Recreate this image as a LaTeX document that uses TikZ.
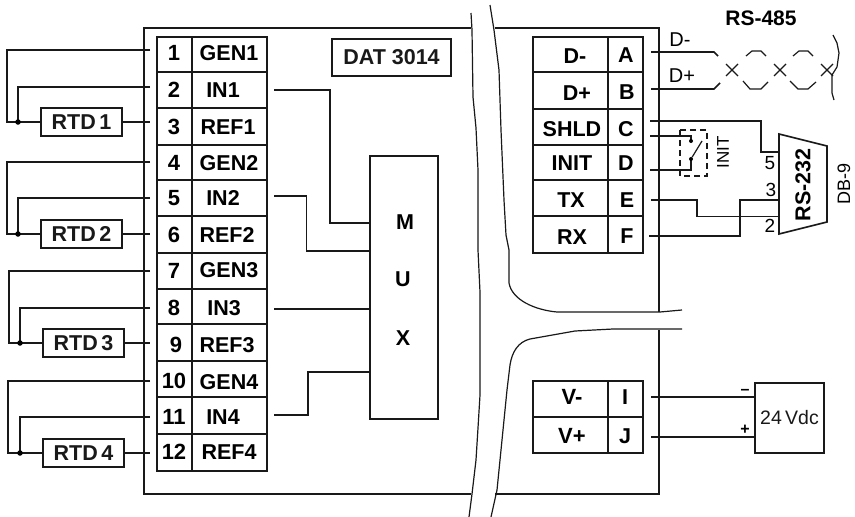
\documentclass[tikz,border=0pt]{standalone}
\usepackage{fontspec}
\setmainfont{Liberation Sans}
\newcommand{\fs}[1]{\fontsize{#1}{#1}\selectfont}
\tikzset{
  x=1pt,y=-1pt,
  ln/.style={line width=1.6pt,black!90},
  thin ln/.style={line width=1.2pt,black!90},
  lbl/.style={inner sep=0pt,font=\fs{22}\bfseries},
  mid/.style={inner sep=0pt,font=\fs{21.5}\bfseries},
  rg/.style={inner sep=0pt,font=\fs{19}},
  dotj/.style={circle,fill=black,inner sep=0pt,minimum size=5.5pt},
}
\begin{document}
\begin{tikzpicture}
\useasboundingbox (0,0) rectangle (855,517);
\fill[white] (0,0) rectangle (855,517);
% outer box
\draw[ln] (471,28) -- (144,28) -- (144,494) -- (471,494);
\draw[ln] (495,28) -- (659,28) -- (659,312);
\draw[ln] (659,330) -- (659,494) -- (495,494);
% break lines
\draw[thin ln] (471,13) -- (472,30) -- (473,97) -- (476,128) -- (478,170) -- (478,250) -- (480,292) -- (480,395) -- (478,428) -- (476,460) -- (472,494) -- (469,517);
\draw[thin ln] (490,5) -- (494,30) -- (499,70) -- (501,130) -- (504,200) -- (506,235) -- (509,250) -- (509,283) .. controls (512,300) and (535,310) .. (557,312) -- (660,312) -- (682,310);
\draw[thin ln] (682,329) -- (613,329) -- (575,331) -- (530,339) .. controls (518,342) and (512,352) .. (510,365) -- (507,390) -- (502,440) -- (497,490) -- (491,517);
% left terminal table
\draw[ln] (157,37) rectangle (267,471);
\draw[ln] (192,37) -- (192,471);
\foreach \yy in {72,108,145,180,216,253,289,324,361,397,434}
  \draw[ln] (157,\yy) -- (267,\yy);
% left labels
\foreach \n/\xx/\yy/\t in {n1/174/53/1,n2/174/90/2,n3/174/127/3,n4/174/163/4,n5/174/198/5,n6/174/235/6,n7/174/271/7,n8/174/308/8,n9/176/345/9,n10/174/381/10,n11/174/417/11,n12/174/452/12}
  \node[lbl] (\n) at (\xx,\yy) {\t};
\foreach \n/\xx/\yy/\t in {g1/229/53/GEN1,i1/223/90/IN1,r1/228/127/REF1,g2/229/163/GEN2,i2/223/198/IN2,r2/227/235/REF2,g3/229/270/GEN3,i3/224/308/IN3,r3/227/345/REF3,g4/229/382/GEN4,i4/223/417/IN4,r4/229/452/REF4}
  \node[mid] (\n) at (\xx,\yy) {\t};
% RTD
\foreach \n/\xa/\xb/\ya/\yb/\t in {rtdA/41/122/108/136/RTD\,1,rtdB/41/122/220/248/RTD\,2,rtdC/43/124/329/357/RTD\,3,rtdD/43/124/439/467/RTD\,4}
  \node[draw,ln,inner sep=0pt,minimum width=81pt,minimum height=28pt,font=\fs{21.5}\bfseries] (\n) at ({(\xa+\xb)/2},{(\ya+\yb)/2}) {\t};
% wires rtd1
\coordinate (pA) at (150,50); \coordinate (pB) at (150,87); \coordinate (pC) at (150,122);
\coordinate (jA) at (18,122);
\draw[ln] (pA) -- (7,50) -- (7,122) -- (rtdA.west);
\draw[ln] (pB) -- (18,87) -- (jA);
\draw[ln] (rtdA.east) -- (pC);
\node[dotj] at (jA) {};
\coordinate (qA) at (150,162); \coordinate (qB) at (150,198); \coordinate (qC) at (150,234);
\coordinate (jB) at (18,234);
\draw[ln] (qA) -- (7,162) -- (7,234) -- (rtdB.west);
\draw[ln] (qB) -- (18,198) -- (jB);
\draw[ln] (rtdB.east) -- (qC);
\node[dotj] at (jB) {};
\coordinate (sA) at (150,271); \coordinate (sB) at (150,308); \coordinate (sC) at (150,343);
\coordinate (jC) at (20,343);
\draw[ln] (sA) -- (9,271) -- (9,343) -- (rtdC.west);
\draw[ln] (sB) -- (20,308) -- (jC);
\draw[ln] (rtdC.east) -- (sC);
\node[dotj] at (jC) {};
\coordinate (tA) at (150,381); \coordinate (tB) at (150,417); \coordinate (tC) at (150,453);
\coordinate (jD) at (20,453);
\draw[ln] (tA) -- (8,381) -- (8,453) -- (rtdD.west);
\draw[ln] (tB) -- (20,417) -- (jD);
\draw[ln] (rtdD.east) -- (tC);
\node[dotj] at (jD) {};
% DAT label
\node[draw,ln,inner sep=0pt,minimum width=119pt,minimum height=37pt,font=\fs{21.5}\bfseries] (dat) at (391.5,57.5) {DAT 3014};
% MUX
\node[draw,ln,inner sep=0pt,minimum width=68pt,minimum height=263pt] (mux) at (404,287.5) {};
\node[mid] (mm) at (405,222) {M};
\node[mid] (mu) at (403,279) {U};
\node[mid] (mx) at (403,338) {X};
\coordinate (a1) at (274,90); \coordinate (a2) at (274,196); \coordinate (a3) at (274,309); \coordinate (a4) at (274,415);
\draw[ln] (a1) -- (330,90) -- (330,223) -- (370,223);
\draw[ln] (a2) -- (306.5,196) -- (306.5,251) -- (370,251);
\draw[ln] (a3) -- (370,309);
\draw[ln] (a4) -- (308,415) -- (308,372) -- (370,372);
% right table
\draw[ln] (533,37) rectangle (643,253);
\draw[ln] (608,37) -- (608,253);
\foreach \yy in {72,109,145,180,216}
  \draw[ln] (533,\yy) -- (643,\yy);
\foreach \n/\xx/\yy/\t in {dm/575/56/D-,dp/577/93/D+,sh/572/129/SHLD,ini/572/163/INIT,tx/571/200/TX,rx/572/237/RX,la/626/55/A,lb/627/92/B,lc/626/129/C,ld/626/163/D,le/627/200/E,lf/627/236/F}
  \node[mid] (\n) at (\xx,\yy) {\t};
% RS-485
\node[inner sep=0pt,font=\fs{21}\bfseries] (rs485) at (761,18) {RS-485};
\coordinate (wa) at (651,52); \coordinate (wb) at (651,89);
\draw[ln] (wa) -- (714,52) -- (718,56);
\draw[ln] (wb) -- (714,89) -- (720,83);
\node[inner sep=0pt,font=\fs{20}] (dml) at (680,40) {D-};
\node[inner sep=0pt,font=\fs{20}] (dpl) at (682,76) {D+};
\foreach \cx in {732,780,827}{
  \draw[thin ln] (\cx-6,64) -- (\cx+6,76);
  \draw[thin ln] (\cx-6,76) -- (\cx+6,64);
}
\draw[thin ln] (746,56) -- (752,51) -- (761,51) -- (766,56);
\draw[thin ln] (743,81) -- (750,89) -- (761,89) -- (768,82);
\draw[thin ln] (793,56) -- (799,51) -- (808,51) -- (813,56);
\draw[thin ln] (790,81) -- (798,89) -- (808,89) -- (816,82);
\draw[thin ln] (833,35) -- (837,43) -- (839,53) -- (837,67) -- (832,75) -- (832,93) -- (834,100);
% RS-232
\draw[ln] (779,134) -- (827,146) -- (827,222) -- (779,234) -- cycle;
\coordinate (rsC) at (779,152); \coordinate (rsE) at (779,216.5); \coordinate (rsF) at (779,200);
\draw[ln] (650,121) -- (761,121) -- (761,152) -- (rsC);
\draw[ln] (651,200) -- (697,200) -- (697,216.5) -- (rsE);
\draw[ln] (649,236) -- (740,236) -- (740,200) -- (rsF);
\node[rg] (n5) at (770,163) {5};
\node[rg] (n3) at (771,190) {3};
\node[rg] (n2) at (770,226) {2};
\node[inner sep=0pt,font=\fs{21.5}\bfseries,rotate=90] (rsl) at (803,185) {RS-232};
\node[inner sep=0pt,font=\fs{18},rotate=90] (db9) at (844,184) {DB-9};
\node[inner sep=0pt,font=\fs{17},rotate=90] (initl) at (723,152) {INIT};
% switch
\draw[ln] (650,136) -- (691,136) -- (691,142);
\draw[ln] (650,170) -- (691,170) -- (691,159);
\node[circle,fill=black,inner sep=0pt,minimum size=4pt] (sa) at (691,141) {};
\node[circle,fill=black,inner sep=0pt,minimum size=4pt] (sb) at (691,159) {};
\draw[thin ln] (sb) -- (702,141);
\draw[thin ln,dash pattern=on 6pt off 4pt] (680,130) rectangle (707,176);
% lower
\draw[ln] (533,381) rectangle (643,453);
\draw[ln] (608,381) -- (608,453);
\draw[ln] (533,417) -- (643,417);
\node[lbl] (vm) at (572,397) {V-};
\node[lbl] (vp) at (572,436) {V+};
\node[mid] (li) at (625,397) {I};
\node[mid] (lj) at (625,436) {J};
\node[draw,ln,inner sep=0pt,minimum width=69pt,minimum height=70pt,font=\fs{19.5}] (psu) at (789.5,418) {24\,Vdc};
\draw[ln] (651,397) -- (psu.west |- 0,397);
\draw[ln] (651,437) -- (psu.west |- 0,437);
\node[mid,font=\fs{16}\bfseries] (minus) at (745,392) {--};
\node[mid,font=\fs{16}\bfseries] (plus) at (745,430) {+};
\end{tikzpicture}
\end{document}
